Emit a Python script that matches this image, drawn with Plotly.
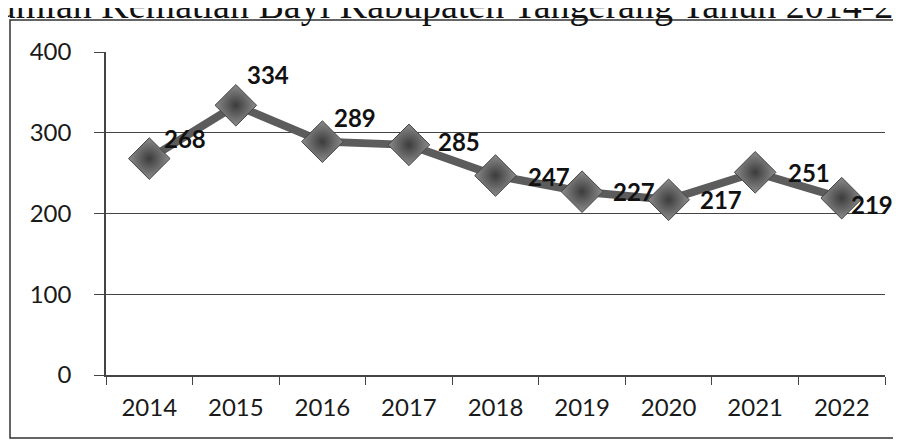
import plotly.graph_objects as go

years = ["2014", "2015", "2016", "2017", "2018", "2019", "2020", "2021", "2022"]
deaths = [268, 334, 289, 285, 247, 227, 217, 251, 219]
y_ticks = [0, 100, 200, 300, 400]
# label offsets from each point, in pixels (right, up)
label_dx = [36, 32, 33, 50, 53, 52, 52, 54, 30]
label_dy = [20, 31, 24, 3, -1, 0, 0, 0, -6]

# the page body has an 8px margin, so the figure is drawn 8px in
OFF = 8
W, H = 893, 433
L, R, T, B = 98, 16, 44, 66
pw, ph = W - L - R, H - T - B


def px_x(p):
    return (p - OFF - L) / pw


def px_y(p):
    return (H - B - (p - OFF)) / ph


fig = go.Figure(go.Scatter(
    x=years, y=deaths,
    mode="lines+markers",
    line=dict(color="#5c5c5c", width=8),
    marker=dict(symbol="diamond", size=32, color="#8c8c8c",
                gradient=dict(type="radial", color="#3c3c3c"),
                line=dict(color="#444", width=1)),
    cliponaxis=False,
    showlegend=False,
))

# numeric-looking category names get read as positions in annotations,
# so place the labels by category index
labels = [dict(x=i, y=y, xref="x", yref="y", text="<b>%d</b>" % y,
               showarrow=False, xshift=dx, yshift=dy,
               font=dict(family="Lato", size=24, color="#111"))
          for i, (y, dx, dy) in enumerate(zip(deaths, label_dx, label_dy))]

title = dict(text="Jumlah Kematian Bayi Kabupaten Tangerang Tahun 2014-2022",
             xref="paper", yref="paper", x=px_x(-20), y=px_y(28),
             xanchor="left", yanchor="bottom", showarrow=False,
             font=dict(family="Liberation Serif", size=38, color="#111"))

fig.update_layout(
    width=W, height=H,
    margin=dict(l=L, r=R, t=T, b=B),
    paper_bgcolor="white", plot_bgcolor="white",
    font=dict(family="Lato", size=24, color="#1a1a1a"),
    xaxis=dict(type="category", range=[-0.5, 8.5], showgrid=False, showline=True,
               linecolor="#444", linewidth=1.5, ticks="outside", ticklen=8,
               tickcolor="#444", tickson="boundaries", ticklabelstandoff=10),
    yaxis=dict(range=[0, 400], tickvals=y_ticks, showgrid=True, gridcolor="#444",
               gridwidth=1.2, showline=True, linecolor="#444", linewidth=1.5,
               ticks="outside", ticklen=10, tickcolor="#444", zeroline=False,
               ticklabelstandoff=18),
    shapes=[dict(type="rect", xref="paper", yref="paper",
                 x0=px_x(10), x1=px_x(897), y0=px_y(438), y1=px_y(20),
                 line=dict(color="#333", width=1.5), layer="below")],
    annotations=labels + [title],
)

fig.write_html("out.html")
